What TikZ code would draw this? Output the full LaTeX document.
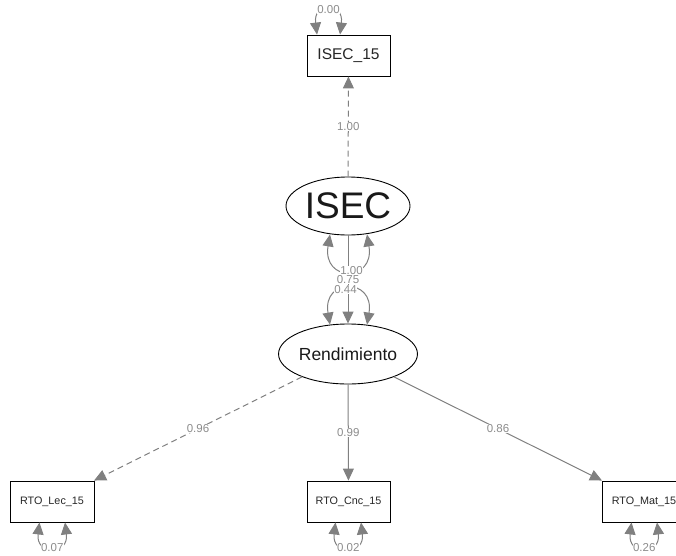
\documentclass[tikz,border=0pt]{standalone}
\usepackage{fontspec}
\setmainfont{Liberation Sans}
\usetikzlibrary{arrows.meta,shapes.geometric,calc}
\definecolor{edgegray}{HTML}{808080}
\definecolor{labgray}{HTML}{8C8C8C}
\begin{document}
\begin{tikzpicture}[x=1pt,y=-1pt,
  manifest/.style={draw=black,line width=0.9pt,minimum width=84pt,minimum height=41pt,inner sep=0pt,text=black!85,font=\fontsize{10.8}{12}\selectfont},
  latent/.style={draw=black,ellipse,line width=0.9pt,inner sep=0pt,text=black!90},
  edge/.style={draw=edgegray,line width=1pt,-{Triangle[length=12pt,width=11pt]}},
  dedge/.style={edge,dash pattern=on 6pt off 4pt},
  loopedge/.style={draw=edgegray,line width=1pt,{Triangle[length=12pt,width=11pt]}-{Triangle[length=12pt,width=11pt]}},
  elabel/.style={fill=white,inner sep=0.3pt,text=labgray,font=\fontsize{11.5}{12}\selectfont}]
\useasboundingbox (0,0) rectangle (676,555);
\clip (0,0) rectangle (676,555);
% nodes
\node[manifest,minimum width=83pt,font=\fontsize{15.5}{17}\selectfont] (isec15) at (348.5,55.5) {ISEC\_15};
\node[latent,minimum width=124pt,minimum height=58pt,font=\fontsize{37}{40}\selectfont] (isec) at (348,206) {ISEC};
\node[latent,minimum width=122pt,minimum height=60pt,font=\fontsize{17.5}{20}\selectfont] (rend) at (348,354) {Rendimiento};
\node[manifest] (lec) at (52,501.5) {RTO\_Lec\_15};
\node[manifest,minimum width=83pt] (cnc) at (348.5,501.5) {RTO\_Cnc\_15};
\node[manifest] (mat) at (644,501.5) {RTO\_Mat\_15};
% loadings
\draw[dedge] (isec) -- node[elabel] {1.00} (isec15);
\draw[edge] (isec) -- node[elabel,pos=0.5] {0.75} (rend);
\draw[dedge] (rend) -- node[elabel] {0.96} (lec);
\draw[edge] (rend) -- node[elabel] {0.99} (cnc);
\draw[edge] (rend) -- node[elabel] {0.86} (mat);
% variances
\draw[loopedge] ($(isec15.north)+(-31.5,0)$) .. controls +(-4,-33) and +(4,-33) .. node[elabel,pos=0.5] {0.00} ($(isec15.north)+(-8.5,0)$);
\draw[loopedge] ($(isec.south)+(-18,-1)$) .. controls +(-8,48) and +(8,48) .. node[elabel,pos=0.5,xshift=3pt] {1.00} ($(isec.south)+(19,-1)$);
\draw[loopedge] ($(rend.north)+(-18,1)$) .. controls +(-8,-47) and +(8,-47) .. node[elabel,pos=0.5,xshift=-3pt] {0.44} ($(rend.north)+(19,1)$);
\draw[loopedge] ($(lec.south)+(-12.5,0)$) .. controls +(-4,33) and +(4,33) .. node[elabel,pos=0.5] {0.07} ($(lec.south)+(13,0)$);
\draw[loopedge] ($(cnc.south)+(-13,0)$) .. controls +(-4,33) and +(4,33) .. node[elabel,pos=0.5] {0.02} ($(cnc.south)+(12.5,0)$);
\draw[loopedge] ($(mat.south)+(-12.5,0)$) .. controls +(-4,33) and +(4,33) .. node[elabel,pos=0.5] {0.26} ($(mat.south)+(13,0)$);
\end{tikzpicture}
\end{document}
